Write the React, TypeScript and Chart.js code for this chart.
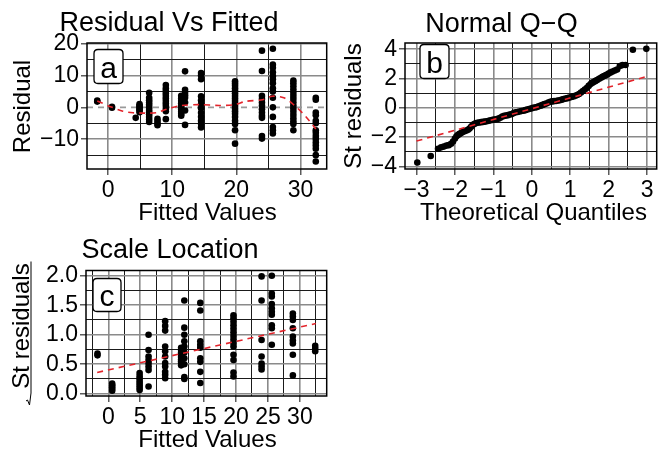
import React, { useEffect, useRef } from 'react';
import { Chart, registerables } from 'chart.js';

Chart.register(...registerables);

const FONT = "'Liberation Sans', Arial, Helvetica, sans-serif";
const RED = '#e3242b';

// ---------- Panel a: Residual vs Fitted ----------
const fittedA = [-1.7, 0.6, 4.3, 4.9, 6.4, 7.7, 9.0, 11.4, 12.0, 14.5, 19.8, 24.0, 25.7, 28.9, 32.4];
const residualsA = [
  [2.1, 1.8],
  [0.2, -0.1],
  [-3.3],
  [1.0, 0.6, 0.2, -0.2, -0.6, -1.0, -1.5],
  [4.6, 3.0, 2.2, 1.5, 0.8, 0.0, -0.8, -1.5, -2.2, -3.0, -3.8, -4.6],
  [-3.6, -4.3, -5.0, -5.6],
  [7.0, 6.0, 5.2, 4.4, 3.6, 2.8, 2.0, 1.2, 0.4, -0.5, -1.2, -3.7],
  [3.6, 2.8, 2.0, 1.3, 0.6, 0.0, -0.7, -1.4, -2.1, -2.6],
  [11.3, 5.5, 4.6, 3.8, 3.0, 1.5, -1.0, -5.5],
  [10.8, 10.0, 8.8, 3.5, 2.2, 1.0, -0.3, -1.7, -3.0, -4.2, -5.2, -6.3],
  [8.2, 7.5, 6.8, 6.0, 5.2, 4.4, 3.6, 2.8, 2.0, 1.2, 0.4, -0.4, -1.2, -2.0, -3.0, -4.2, -5.2, -7.2, -11.4],
  [17.8, 11.4, 3.6, 2.6, 1.5, 0.5, -0.6, -1.6, -2.6, -3.3, -9.0, -9.8],
  [18.4, 13.4, 12.4, 11.0, 9.8, 8.8, 7.6, 6.0, 5.0, 3.0, 0.0, -3.0, -6.2, -7.2, -8.2],
  [8.4, 7.6, 6.6, 5.6, 4.6, 3.6, 2.6, 1.6, 0.6, -0.4, -1.4, -2.4, -3.4, -4.4, -5.2, -7.2],
  [3.0, 2.4, -1.6, -2.5, -4.2, -5.0, -7.2, -8.0, -9.0, -9.9, -11.0, -12.0, -13.0, -15.0, -17.0],
];
const smoothFittedA = [-1.7, 0.5, 2.3, 3.9, 5.5, 7.5, 9.1, 11.2, 14.2, 17.3, 19.7, 21.5, 24.1, 25.6, 27.4, 28.9, 30.8, 32.4];
const smoothResidA = [2.0, 0.1, -1.2, -1.7, -1.8, -1.7, -0.6, 0.5, 0.85, 0.6, 0.85, 1.9, 2.4, 3.5, 3.0, 0.9, -2.8, -6.8];
const xTicksA = [0, 5, 10, 15, 20, 25, 30];
const xMajorA = [0, 10, 20, 30];
const yTicksA = [-15, -10, -5, 0, 5, 10, 15, 20];
const yMajorA = [-10, 0, 10, 20];

// ---------- Panel b: Normal Q-Q ----------
const qqTheoretical = [
  -2.98, -2.63, -2.44, -2.36, -2.29, -2.22, -2.16, -2.10, -2.05, -2.00, -1.96, -1.92, -1.88, -1.84, -1.80,
  -1.75, -1.70, -1.66, -1.62, -1.58, -1.54, -1.50, -1.46, -1.42, -1.37, -1.32, -1.27, -1.22, -1.17, -1.12,
  -1.07, -1.02, -0.97, -0.92, -0.87, -0.82, -0.77, -0.72, -0.67, -0.62, -0.57, -0.52, -0.47, -0.42, -0.37,
  -0.32, -0.27, -0.22, -0.17, -0.12, -0.07, -0.02, 0.03, 0.08, 0.13, 0.18, 0.23, 0.28, 0.33, 0.38, 0.43,
  0.48, 0.53, 0.58, 0.63, 0.68, 0.73, 0.78, 0.83, 0.88, 0.93, 0.98, 1.03, 1.08, 1.13, 1.18, 1.23, 1.28,
  1.33, 1.38, 1.43, 1.48, 1.53, 1.58, 1.62, 1.66, 1.70, 1.75, 1.80, 1.84, 1.88, 1.92, 1.96, 2.00, 2.05,
  2.10, 2.16, 2.22, 2.29, 2.36, 2.44, 2.63, 2.98,
];
const qqSample = [
  -3.74, -3.29, -2.80, -2.70, -2.65, -2.58, -2.55, -2.45, -2.30, -2.10, -1.95, -1.85, -1.78, -1.72, -1.65,
  -1.60, -1.55, -1.50, -1.42, -1.30, -1.18, -1.10, -1.05, -1.02, -1.00, -0.98, -0.96, -0.94, -0.92, -0.88,
  -0.85, -0.82, -0.80, -0.78, -0.74, -0.68, -0.60, -0.55, -0.52, -0.50, -0.46, -0.42, -0.35, -0.30, -0.28,
  -0.25, -0.22, -0.20, -0.16, -0.12, -0.08, -0.05, 0.00, 0.02, 0.05, 0.10, 0.15, 0.20, 0.25, 0.30, 0.36,
  0.42, 0.44, 0.46, 0.47, 0.50, 0.52, 0.56, 0.60, 0.63, 0.66, 0.70, 0.74, 0.78, 0.82, 0.88, 0.95, 1.05,
  1.15, 1.25, 1.35, 1.50, 1.62, 1.72, 1.78, 1.84, 1.90, 1.98, 2.05, 2.12, 2.18, 2.22, 2.28, 2.35, 2.42,
  2.48, 2.55, 2.62, 2.85, 2.92, 2.93, 3.97, 4.03,
];
const qqLineX = [-3, 3];
const qqLineY = [-2.27, 2.15];
const xTicksB = [-3, -2.5, -2, -1.5, -1, -0.5, 0, 0.5, 1, 1.5, 2, 2.5, 3];
const xMajorB = [-3, -2, -1, 0, 1, 2, 3];
const yTicksB = [-4, -3, -2, -1, 0, 1, 2, 3, 4];
const yMajorB = [-4, -2, 0, 2, 4];

// ---------- Panel c: Scale Location ----------
const fittedC = [-1.7, 0.6, 4.9, 6.3, 8.9, 11.4, 11.9, 14.4, 19.6, 24.0, 25.6, 28.9, 32.4];
const sqrtResidC = [
  [0.65, 0.68],
  [0.05, 0.08, 0.11, 0.14, 0.17],
  [0.06, 0.1, 0.14, 0.18, 0.22, 0.26, 0.3, 0.35],
  [1.0, 0.74, 0.63, 0.57, 0.52, 0.46, 0.4, 0.12],
  [1.23, 1.15, 1.07, 0.8, 0.72, 0.63, 0.52, 0.46, 0.37, 0.32, 0.26],
  [0.78, 0.74, 0.7, 0.66, 0.62, 0.58, 0.55, 0.52, 0.48],
  [1.58, 1.12, 1.0, 0.89, 0.8, 0.7, 0.6, 0.5, 0.28, 0.25],
  [1.54, 1.41, 0.89, 0.83, 0.78, 0.6, 0.54, 0.37, 0.18],
  [1.33, 1.28, 1.22, 1.16, 1.1, 1.04, 0.98, 0.92, 0.86, 0.8, 0.66, 0.57, 0.36, 0.29],
  [1.99, 1.58, 0.91, 0.63, 0.51, 0.46, 0.41],
  [2.0, 1.7, 1.65, 1.52, 1.45, 1.39, 1.34, 1.16, 1.11, 0.83],
  [1.36, 1.31, 1.25, 1.11, 0.97, 0.9, 0.85, 0.66, 0.31],
  [0.81, 0.76, 0.72],
];
const slLineX = [-1.75, 32.5];
const slLineY = [0.36, 1.19];
const xTicksC = [-2.5, 0, 2.5, 5, 7.5, 10, 12.5, 15, 17.5, 20, 22.5, 25, 27.5, 30, 32.5];
const xMajorC = [0, 5, 10, 15, 20, 25, 30];
const yTicksC = [0, 0.25, 0.5, 0.75, 1, 1.25, 1.5, 1.75, 2];
const yMajorC = [0, 0.5, 1, 1.5, 2];

// ---------- helpers ----------
const has = (arr: number[], v: number) => arr.some((a) => Math.abs(a - v) < 1e-9);
const minus = (s: string) => s.replace('-', '\u2212');

function axis(opts: any) {
  const { min, max, ticks, majors, fmt, fitKey, fitSize, hideZero } = opts;
  return {
    type: 'linear',
    min,
    max,
    afterBuildTicks: (s: any) => {
      s.ticks = ticks.map((v: number) => ({ value: v }));
    },
    afterFit: (s: any) => {
      s[fitKey] = fitSize;
    },
    ticks: {
      autoSkip: false,
      maxRotation: 0,
      minRotation: 0,
      padding: 2,
      color: '#000',
      font: { family: FONT, size: 23 },
      callback: (v: number) => (has(majors, v) ? minus(fmt(v)) : ''),
    },
    grid: {
      color: (c: any) => {
        const v = c.tick ? c.tick.value : NaN;
        if (hideZero && v === 0) return 'rgba(0,0,0,0)';
        return has(majors, v) ? '#8a8a8a' : '#1a1a1a';
      },
      lineWidth: (c: any) => (c.tick && has(majors, c.tick.value) ? 1.6 : 1),
      tickLength: 6,
      tickColor: (c: any) => (c.tick && has(majors, c.tick.value) ? '#333' : 'rgba(0,0,0,0)'),
      tickWidth: 1.2,
    },
    border: { display: false },
    title: { display: false },
  };
}

function text(ctx: any, s: string, x: number, y: number, size: number, rotate = false) {
  ctx.save();
  ctx.font = `${size}px ${FONT}`;
  ctx.fillStyle = '#000';
  ctx.textAlign = 'center';
  ctx.textBaseline = 'alphabetic';
  ctx.translate(x, y);
  if (rotate) ctx.rotate(-Math.PI / 2);
  ctx.fillText(s, 0, 0);
  ctx.restore();
}

function decor(spec: any) {
  return {
    id: 'decor',
    afterDatasetsDraw(chart: any) {
      const ctx = chart.ctx;
      const a = chart.chartArea;
      ctx.save();
      ctx.strokeStyle = '#000';
      ctx.lineWidth = 1.5;
      ctx.strokeRect(a.left, a.top, a.right - a.left, a.bottom - a.top);
      // label box
      const b = spec.box;
      const r = 4;
      ctx.beginPath();
      ctx.moveTo(b.x + r, b.y);
      ctx.lineTo(b.x + b.w - r, b.y);
      ctx.quadraticCurveTo(b.x + b.w, b.y, b.x + b.w, b.y + r);
      ctx.lineTo(b.x + b.w, b.y + b.h - r);
      ctx.quadraticCurveTo(b.x + b.w, b.y + b.h, b.x + b.w - r, b.y + b.h);
      ctx.lineTo(b.x + r, b.y + b.h);
      ctx.quadraticCurveTo(b.x, b.y + b.h, b.x, b.y + b.h - r);
      ctx.lineTo(b.x, b.y + r);
      ctx.quadraticCurveTo(b.x, b.y, b.x + r, b.y);
      ctx.closePath();
      ctx.fillStyle = '#fff';
      ctx.fill();
      ctx.lineWidth = 1.3;
      ctx.strokeStyle = '#000';
      ctx.stroke();
      ctx.restore();
      text(ctx, b.label, b.x + b.w / 2, b.y + b.h - 6, 30);
    },
    afterDraw(chart: any) {
      const ctx = chart.ctx;
      text(ctx, spec.title, spec.titleX, spec.titleY, 27);
      text(ctx, spec.xTitle, spec.xTitleX, spec.xTitleY, 24);
      text(ctx, spec.yTitle, spec.yTitleX, spec.yTitleY, 24, true);
      if (spec.sqrt) {
        ctx.save();
        ctx.strokeStyle = '#000';
        ctx.lineWidth = 1;
        ctx.beginPath();
        ctx.moveTo(31, 36.5);
        ctx.lineTo(31, 168);
        ctx.lineTo(29.5, 180);
        ctx.lineTo(27.5, 175);
        ctx.lineTo(26, 176);
        ctx.stroke();
        ctx.restore();
      }
    },
  };
}

const scatterSet = (data: any[]) => ({
  data,
  pointRadius: 3.3,
  pointHoverRadius: 3.3,
  pointBackgroundColor: '#000',
  pointBorderWidth: 0,
  showLine: false,
  order: 2,
});
const lineSet = (data: any[], color: string, order: number, tension = 0) => ({
  data,
  showLine: true,
  borderColor: color,
  borderWidth: 1.6,
  borderDash: [6, 5],
  pointRadius: 0,
  pointHoverRadius: 0,
  tension,
  fill: false,
  order,
});

function makeChart(canvas: HTMLCanvasElement, spec: any) {
  return new Chart(canvas, {
    type: 'scatter',
    data: { datasets: spec.datasets },
    options: {
      responsive: false,
      animation: false,
      devicePixelRatio: 1,
      events: [],
      layout: { padding: { top: spec.padTop, left: 0, right: 2, bottom: 0 } },
      plugins: { legend: { display: false }, tooltip: { enabled: false }, title: { display: false } },
      scales: { x: spec.x, y: spec.y },
    } as any,
    plugins: [decor(spec)],
  } as any);
}

export default function App() {
  const refA = useRef<HTMLCanvasElement>(null);
  const refB = useRef<HTMLCanvasElement>(null);
  const refC = useRef<HTMLCanvasElement>(null);

  useEffect(() => {
    const pointsA = fittedA.flatMap((f, i) => residualsA[i].map((r) => ({ x: f, y: r })));
    const smoothA = smoothFittedA.map((f, i) => ({ x: f, y: smoothResidA[i] }));
    const pointsB = qqTheoretical.map((q, i) => ({ x: q, y: qqSample[i] }));
    const lineB = qqLineX.map((q, i) => ({ x: q, y: qqLineY[i] }));
    const pointsC = fittedC.flatMap((f, i) => sqrtResidC[i].map((r) => ({ x: f, y: r })));
    const lineC = slLineX.map((f, i) => ({ x: f, y: slLineY[i] }));

    const chartA = makeChart(refA.current!, {
      padTop: 43,
      datasets: [
        lineSet(smoothA, RED, 0, 0.3),
        scatterSet(pointsA),
        lineSet([{ x: -3.3, y: 0 }, { x: 34.1, y: 0 }], '#9a9a9a', 3),
      ],
      x: axis({ min: -3.3, max: 34.1, ticks: xTicksA, majors: xMajorA, fmt: (v: number) => String(v), fitKey: 'height', fitSize: 56 }),
      y: axis({ min: -19.35, max: 20.2, ticks: yTicksA, majors: yMajorA, fmt: (v: number) => String(v), fitKey: 'width', fitSize: 87, hideZero: true }),
      box: { x: 94, y: 49.5, w: 29, h: 34, label: 'a' },
      title: 'Residual Vs Fitted', titleX: 169, titleY: 31,
      xTitle: 'Fitted Values', xTitleX: 207.5, xTitleY: 220,
      yTitle: 'Residual', yTitleX: 29.5, yTitleY: 106.5,
    });

    const chartB = makeChart(refB.current!, {
      padTop: 43,
      datasets: [lineSet(lineB, RED, 0), scatterSet(pointsB)],
      x: axis({ min: -3.3, max: 3.25, ticks: xTicksB, majors: xMajorB, fmt: (v: number) => String(v), fitKey: 'height', fitSize: 56 }),
      y: axis({ min: -4.18, max: 4.43, ticks: yTicksB, majors: yMajorB, fmt: (v: number) => String(v), fitKey: 'width', fitSize: 75 }),
      box: { x: 90, y: 44.5, w: 29, h: 34, label: 'b' },
      title: 'Normal Q\u2212Q', titleX: 171.5, titleY: 31.5,
      xTitle: 'Theoretical Quantiles', xTitleX: 203.5, xTitleY: 220,
      yTitle: 'St residuals', yTitleX: 31, yTitleY: 106,
    });

    const chartC = makeChart(refC.current!, {
      padTop: 45.5,
      datasets: [lineSet(lineC, RED, 0), scatterSet(pointsC)],
      x: axis({ min: -3.5, max: 34.2, ticks: xTicksC, majors: xMajorC, fmt: (v: number) => String(v), fitKey: 'height', fitSize: 57 }),
      y: axis({ min: -0.04, max: 2.09, ticks: yTicksC, majors: yMajorC, fmt: (v: number) => v.toFixed(1), fitKey: 'width', fitSize: 86 }),
      box: { x: 93, y: 53.5, w: 28, h: 33, label: 'c' },
      title: 'Scale Location', titleX: 170, titleY: 33,
      xTitle: 'Fitted Values', xTitleX: 207.5, xTitleY: 221.5,
      yTitle: 'St residuals', yTitleX: 28.5, yTitleY: 101,
      sqrt: true,
    });

    return () => {
      chartA.destroy();
      chartB.destroy();
      chartC.destroy();
    };
  }, []);

  return (
    <div style={{ position: 'absolute', left: 0, top: 0, width: 660, height: 453, background: '#fff' }}>
      <canvas ref={refA} width={330} height={225} style={{ position: 'absolute', left: 0, top: 0, width: 330, height: 225 }} />
      <canvas ref={refB} width={330} height={225} style={{ position: 'absolute', left: 330, top: 0, width: 330, height: 225 }} />
      <canvas ref={refC} width={330} height={228} style={{ position: 'absolute', left: 0, top: 225, width: 330, height: 228 }} />
    </div>
  );
}
